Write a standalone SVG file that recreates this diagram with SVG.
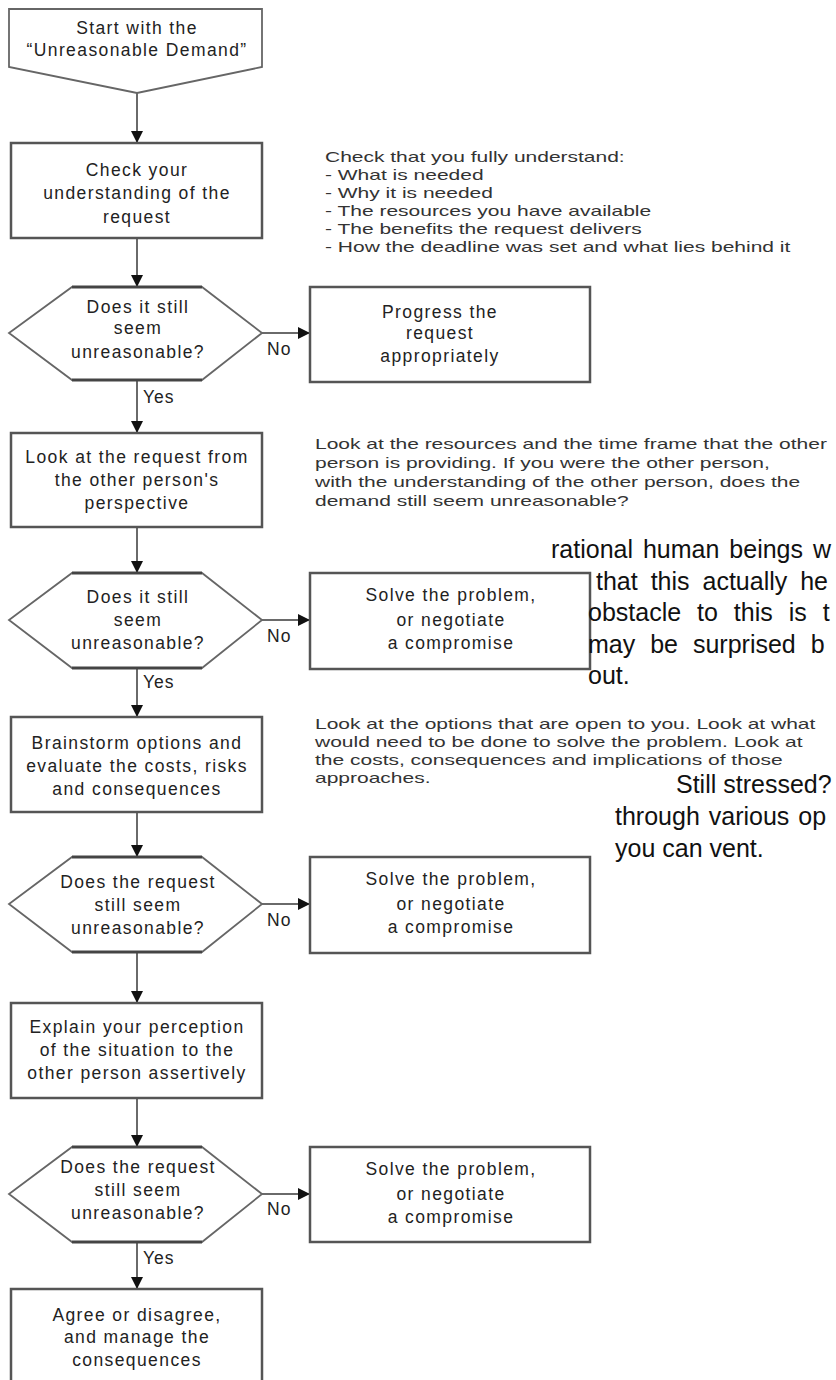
<svg xmlns="http://www.w3.org/2000/svg" width="836" height="1380" viewBox="0 0 836 1380">
<style>
.bx{fill:#fff;stroke:#555;stroke-width:2.5}
.hx{fill:#fff;stroke:#666;stroke-width:1.8}
.hl{stroke:#444;stroke-width:3}
.n{font-family:"Liberation Sans",Arial,sans-serif;font-size:17.5px;letter-spacing:1.4px;fill:#222;text-anchor:middle}
.lb{font-family:"Liberation Sans",Arial,sans-serif;font-size:17.5px;letter-spacing:1px;fill:#222}
.d{font-family:"Liberation Sans",Arial,sans-serif;font-size:14px;fill:#333}
.o{font-family:"Liberation Sans",Arial,sans-serif;font-size:25px;fill:#111}
.c{stroke:#6a6a6a;stroke-width:2;fill:none;marker-end:url(#ah)}
</style>
<defs>
<marker id="ah" viewBox="0 0 12 12" refX="12" refY="6" markerUnits="userSpaceOnUse" markerWidth="12" markerHeight="13" orient="auto">
<path d="M0,0 L12,6 L0,12 z" fill="#111"/>
</marker>
</defs>
<rect width="836" height="1380" fill="#fff"/>

<g id="connectors">
<line class="c" x1="137" y1="93" x2="137" y2="143"/>
<line class="c" x1="137" y1="238" x2="137" y2="287"/>
<line class="c" x1="137" y1="380" x2="137" y2="433"/>
<line class="c" x1="137" y1="527" x2="137" y2="573"/>
<line class="c" x1="137" y1="668" x2="137" y2="717"/>
<line class="c" x1="137" y1="812" x2="137" y2="857"/>
<line class="c" x1="137" y1="952" x2="137" y2="1003"/>
<line class="c" x1="137" y1="1098" x2="137" y2="1147"/>
<line class="c" x1="137" y1="1242" x2="137" y2="1289"/>
<line class="c" x1="262" y1="333" x2="310" y2="333"/>
<line class="c" x1="262" y1="620" x2="310" y2="620"/>
<line class="c" x1="262" y1="904" x2="310" y2="904"/>
<line class="c" x1="262" y1="1194" x2="310" y2="1194"/>
<text class="lb" x="267" y="355">No</text>
<text class="lb" x="143" y="403">Yes</text>
<text class="lb" x="267" y="642">No</text>
<text class="lb" x="143" y="688">Yes</text>
<text class="lb" x="267" y="926">No</text>
<text class="lb" x="267" y="1215">No</text>
<text class="lb" x="143" y="1264">Yes</text>
</g>

<g id="start">
<polygon class="hx" points="9,9 262,9 262,67 137,93 9,67"/>
<text class="n" x="137" y="34">Start with the</text>
<text class="n" x="137" y="56">“Unreasonable Demand”</text>
</g>

<g id="check">
<rect class="bx" x="11" y="143" width="251" height="95"/>
<text class="n" x="137" y="176">Check your</text>
<text class="n" x="137" y="199">understanding of the</text>
<text class="n" x="137" y="223">request</text>
</g>

<g id="q1">
<polygon class="hx" points="72,287 202,287 262,333 202,380 72,380 9,333"/>
<line class="hl" x1="72" y1="287" x2="202" y2="287"/>
<line class="hl" x1="72" y1="380" x2="202" y2="380"/>
<text class="n" x="138" y="313">Does it still</text>
<text class="n" x="138" y="334">seem</text>
<text class="n" x="138" y="358">unreasonable?</text>
</g>

<g id="progress">
<rect class="bx" x="310" y="287" width="280" height="95"/>
<text class="n" x="440" y="318">Progress the</text>
<text class="n" x="440" y="339">request</text>
<text class="n" x="440" y="362">appropriately</text>
</g>

<g id="perspective">
<rect class="bx" x="11" y="433" width="251" height="94"/>
<text class="n" x="137" y="463">Look at the request from</text>
<text class="n" x="137" y="486">the other person's</text>
<text class="n" x="137" y="509">perspective</text>
</g>

<g id="q2">
<polygon class="hx" points="72,573 202,573 262,620 202,668 72,668 9,620"/>
<line class="hl" x1="72" y1="573" x2="202" y2="573"/>
<line class="hl" x1="72" y1="668" x2="202" y2="668"/>
<text class="n" x="138" y="603">Does it still</text>
<text class="n" x="138" y="626">seem</text>
<text class="n" x="138" y="649">unreasonable?</text>
</g>

<g id="solve1">
<rect class="bx" x="310" y="573" width="280" height="96"/>
<text class="n" x="451" y="601">Solve the problem,</text>
<text class="n" x="451" y="626">or negotiate</text>
<text class="n" x="451" y="649">a compromise</text>
</g>

<g id="brainstorm">
<rect class="bx" x="11" y="717" width="251" height="95"/>
<text class="n" x="137" y="749">Brainstorm options and</text>
<text class="n" x="137" y="772">evaluate the costs, risks</text>
<text class="n" x="137" y="795">and consequences</text>
</g>

<g id="q3">
<polygon class="hx" points="72,857 202,857 262,904 202,952 72,952 9,904"/>
<line class="hl" x1="72" y1="857" x2="202" y2="857"/>
<line class="hl" x1="72" y1="952" x2="202" y2="952"/>
<text class="n" x="138" y="888">Does the request</text>
<text class="n" x="138" y="911">still seem</text>
<text class="n" x="138" y="934">unreasonable?</text>
</g>

<g id="solve2">
<rect class="bx" x="310" y="857" width="280" height="96"/>
<text class="n" x="451" y="885">Solve the problem,</text>
<text class="n" x="451" y="910">or negotiate</text>
<text class="n" x="451" y="933">a compromise</text>
</g>

<g id="explain">
<rect class="bx" x="11" y="1003" width="251" height="95"/>
<text class="n" x="137" y="1033">Explain your perception</text>
<text class="n" x="137" y="1056">of the situation to the</text>
<text class="n" x="137" y="1079">other person assertively</text>
</g>

<g id="q4">
<polygon class="hx" points="72,1147 202,1147 262,1194 202,1242 72,1242 9,1194"/>
<line class="hl" x1="72" y1="1147" x2="202" y2="1147"/>
<line class="hl" x1="72" y1="1242" x2="202" y2="1242"/>
<text class="n" x="138" y="1173">Does the request</text>
<text class="n" x="138" y="1196">still seem</text>
<text class="n" x="138" y="1219">unreasonable?</text>
</g>

<g id="solve3">
<rect class="bx" x="310" y="1147" width="280" height="95"/>
<text class="n" x="451" y="1175">Solve the problem,</text>
<text class="n" x="451" y="1200">or negotiate</text>
<text class="n" x="451" y="1223">a compromise</text>
</g>

<g id="agree">
<rect class="bx" x="11" y="1289" width="251" height="100"/>
<text class="n" x="137" y="1321">Agree or disagree,</text>
<text class="n" x="137" y="1343">and manage the</text>
<text class="n" x="137" y="1366">consequences</text>
</g>

<g id="note1" transform="translate(325 0) scale(1.5 1)">
<text class="d" x="0" y="162">Check that you fully understand:</text>
<text class="d" x="0" y="180">- What is needed</text>
<text class="d" x="0" y="198">- Why it is needed</text>
<text class="d" x="0" y="216">- The resources you have available</text>
<text class="d" x="0" y="234">- The benefits the request delivers</text>
<text class="d" x="0" y="252">- How the deadline was set and what lies behind it</text>
</g>

<g id="note2" transform="translate(315 0) scale(1.5 1)">
<text class="d" x="0" y="449">Look at the resources and the time frame that the other</text>
<text class="d" x="0" y="468">person is providing. If you were the other person,</text>
<text class="d" x="0" y="487">with the understanding of the other person, does the</text>
<text class="d" x="0" y="506">demand still seem unreasonable?</text>
</g>

<g id="note3" transform="translate(315 0) scale(1.5 1)">
<text class="d" x="0" y="729">Look at the options that are open to you. Look at what</text>
<text class="d" x="0" y="747">would need to be done to solve the problem. Look at</text>
<text class="d" x="0" y="765">the costs, consequences and implications of those</text>
<text class="d" x="0" y="783">approaches.</text>
</g>

<g id="overlay">
<text class="o" x="551" y="558" word-spacing="3">rational human beings w</text>
<text class="o" x="596" y="590" word-spacing="6">that this actually he</text>
<text class="o" x="588" y="621" word-spacing="9">obstacle to this is t</text>
<text class="o" x="588" y="653" word-spacing="8">may be surprised b</text>
<text class="o" x="588" y="684">out.</text>
<text class="o" x="676" y="793">Still stressed?</text>
<text class="o" x="615" y="825" word-spacing="2">through various op</text>
<text class="o" x="615" y="857">you can vent.</text>
</g>
</svg>
